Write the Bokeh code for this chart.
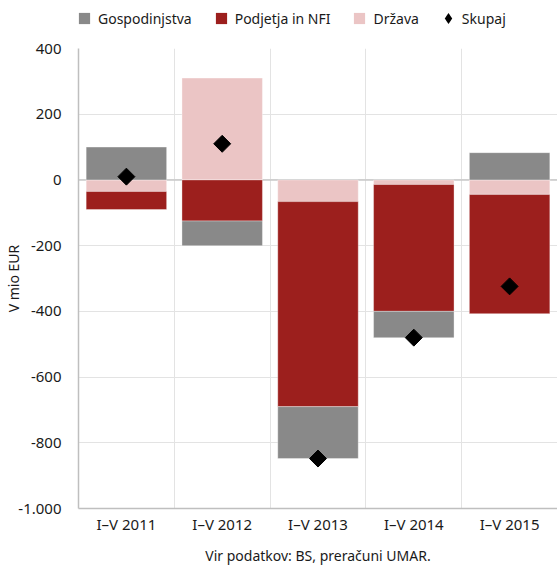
import numpy as np
from bokeh.plotting import figure
from bokeh.layouts import column
from bokeh.models import Range1d, FixedTicker, Legend, LegendItem, Span
from bokeh.embed import file_html
from bokeh.resources import INLINE

categories = ["I–V 2011", "I–V 2012", "I–V 2013", "I–V 2014", "I–V 2015"]
gospodinjstva = [100, -75, -158, -80, 83]
podjetja = [-55, -125, -624, -386, -363]
drzava = [-35, 310, -66, -14, -44]
skupaj = [10, 110, -848, -480, -324]
y_ticks = [-1000, -800, -600, -400, -200, 0, 200, 400]
y_tick_labels = ["-1.000", "-800", "-600", "-400", "-200", "0", "200", "400"]

FONT = "Noto Sans"
TXT = "#1a1a1a"
COLORS = {"Gospodinjstva": "#898989", "Podjetja in NFI": "#9c1f1d", "Država": "#ebc5c5"}
n = len(categories)
x = [i + 0.5 for i in range(n)]

# ---------------- main chart ----------------
p = figure(frame_width=479, frame_height=460, output_backend="svg", toolbar_location=None,
           x_range=Range1d(0, n), y_range=Range1d(-1000, 400),
           min_border_left=78, min_border_right=0, min_border_top=10, min_border_bottom=57)
p.outline_line_color = None

p.xgrid.ticker = FixedTicker(ticks=list(range(1, n)))
p.xgrid.grid_line_color = "#e3e3e3"
p.ygrid.ticker = FixedTicker(ticks=y_ticks)
p.ygrid.grid_line_color = "#e3e3e3"
p.add_layout(Span(location=0, dimension="width", line_color="#c8c8c8", line_width=1.5, level="underlay"))

p.xaxis.ticker = FixedTicker(ticks=x)
p.xaxis.major_label_overrides = {xi: c for xi, c in zip(x, categories)}
p.yaxis.ticker = FixedTicker(ticks=y_ticks)
p.yaxis.major_label_overrides = {t: l for t, l in zip(y_ticks, y_tick_labels)}
for ax in (p.xaxis[0], p.yaxis[0]):
    ax.major_tick_line_color = None
    ax.minor_tick_line_color = None
    ax.major_tick_out = 0
    ax.major_tick_in = 0
    ax.minor_tick_out = 0
    ax.axis_line_color = "#bfbfbf"
    ax.axis_line_width = 1.5
    ax.major_label_text_font = FONT
    ax.major_label_text_font_size = "15px"
    ax.major_label_text_color = TXT
    ax.axis_label_text_font = FONT
    ax.axis_label_text_font_size = "14px"
    ax.axis_label_text_font_style = "normal"
    ax.axis_label_text_color = TXT
p.yaxis.major_label_standoff = 17
p.xaxis.major_label_standoff = 5
p.yaxis.axis_label = "V mio EUR"
p.yaxis.axis_label_standoff = -8
p.xaxis.axis_label = "Vir podatkov: BS, preračuni UMAR."
p.xaxis.axis_label_standoff = 9

# stacked bars, stacked from zero outward
series = [("Država", drzava), ("Podjetja in NFI", podjetja), ("Gospodinjstva", gospodinjstva)]
pos = [0.0] * n
neg = [0.0] * n
for name, vals in series:
    bottoms, tops = [], []
    for i, v in enumerate(vals):
        if v >= 0:
            bottoms.append(pos[i]); tops.append(pos[i] + v); pos[i] += v
        else:
            bottoms.append(neg[i]); tops.append(neg[i] + v); neg[i] += v
    p.vbar(x=x, bottom=bottoms, top=tops, width=0.84,
           fill_color=COLORS[name], line_color="white", line_alpha=0.5, line_width=0.7)

p.scatter(x=x, y=skupaj, marker="square", size=12, angle=np.pi / 4,
          fill_color="black", line_color="black")

# ---------------- legend strip ----------------
lf = figure(width=557, height=38, output_backend="svg", toolbar_location=None,
            x_range=Range1d(0, 1), y_range=Range1d(0, 1),
            x_axis_type=None, y_axis_type=None, min_border=0)
lf.outline_line_color = None
lf.grid.visible = False

sw = {}
for name, vals in [("Gospodinjstva", gospodinjstva), ("Podjetja in NFI", podjetja), ("Država", drzava)]:
    sw[name] = lf.scatter(x=x, y=vals, marker="square", fill_color=COLORS[name],
                          line_color=None, visible=False)
sw["Skupaj"] = lf.scatter(x=x, y=skupaj, marker="diamond", fill_color="black",
                          line_color=None, visible=False)

legend = Legend(items=[LegendItem(label=k, renderers=[sw[k]])
                       for k in ["Gospodinjstva", "Podjetja in NFI", "Država", "Skupaj"]],
                orientation="horizontal", location=(-8, 6), click_policy="none")
legend.label_text_font = FONT
legend.label_text_font_size = "14px"
legend.label_text_color = TXT
legend.padding = 0
legend.margin = 0
legend.border_line_color = None
legend.background_fill_alpha = 0
legend.glyph_width = 28
legend.glyph_height = 28
legend.label_standoff = -6
legend.spacing = 15
lf.add_layout(legend)

layout = column(lf, p, spacing=0)
open("out.html", "w").write(file_html(layout, INLINE))
